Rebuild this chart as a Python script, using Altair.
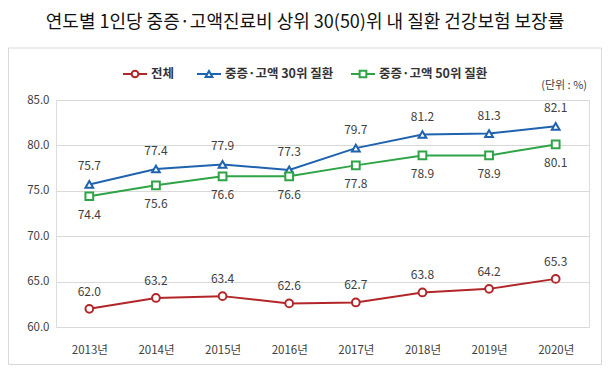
import altair as alt
import pandas as pd

years = ["2013년", "2014년", "2015년", "2016년", "2017년", "2018년", "2019년", "2020년"]
series_names = ["전체", "중증·고액 30위 질환", "중증·고액 50위 질환"]
total = [62.0, 63.2, 63.4, 62.6, 62.7, 63.8, 64.2, 65.3]
top30 = [75.7, 77.4, 77.9, 77.3, 79.7, 81.2, 81.3, 82.1]
top50 = [74.4, 75.6, 76.6, 76.6, 77.8, 78.9, 78.9, 80.1]
y_ticks = [60, 65, 70, 75, 80, 85]

title_text = "연도별 1인당 중증·고액진료비 상위 30(50)위 내 질환 건강보험 보장률"
unit_text = "(단위 : %)"

colors = ["#B22629", "#1F63AE", "#2FA446"]
shapes = ["circle", "triangle-up", "square"]
label_dy = [-17, -18, 19]

FONT = "Noto Sans CJK KR"
W, H = 533, 227

rows = []
for name, vals in zip(series_names, [total, top30, top50]):
    for yr, v in zip(years, vals):
        rows.append({"year": yr, "series": name, "value": v})
df = pd.DataFrame(rows)

xenc = alt.X("year:N", sort=years, scale=alt.Scale(paddingOuter=0.5),
             axis=alt.Axis(title=None, labelAngle=0, ticks=False, domain=False, grid=False,
                           labelFont=FONT, labelFontSize=11.5, labelColor="#404040",
                           labelPadding=17))
yenc = alt.Y("value:Q", scale=alt.Scale(domain=[60, 85], nice=False, zero=False),
             axis=alt.Axis(title=None, values=y_ticks, format=".1f", ticks=False, domain=False,
                           grid=True, gridColor="#d9d9d9", gridWidth=1,
                           labelFont=FONT, labelFontSize=11.5, labelColor="#404040",
                           labelPadding=7))

layers = []
for i, name in enumerate(series_names):
    sub = df[df.series == name]
    base = alt.Chart(sub)
    layers.append(base.mark_line(strokeWidth=2, color=colors[i]).encode(x=xenc, y=yenc))
    layers.append(base.mark_point(shape=shapes[i], filled=True, fill="white", stroke=colors[i],
                                  strokeWidth=2, size=60, opacity=1).encode(x=xenc, y=yenc))
    layers.append(base.mark_text(dy=label_dy[i], font=FONT, fontSize=12, color="#404040")
                  .encode(x=xenc, y=yenc, text=alt.Text("value:Q", format=".1f")))

# border frame
frame = alt.Chart(pd.DataFrame({"a": [0]})).mark_rect(fill=None, stroke="#d9d9d9", strokeWidth=1).encode(
    x=alt.value(-47.5), x2=alt.value(545.5), y=alt.value(-52), y2=alt.value(264.5))

# title
title = alt.Chart(pd.DataFrame({"t": [title_text]})).mark_text(
    font=FONT, fontSize=18, color="#111111", align="center", baseline="middle").encode(
    x=alt.value(249), y=alt.value(-77), text="t:N")

unit = alt.Chart(pd.DataFrame({"t": [unit_text]})).mark_text(
    font=FONT, fontSize=11, color="#404040", align="right", baseline="middle").encode(
    x=alt.value(531), y=alt.value(-14), text="t:N")

# legend
marker_x = [79, 153, 307]
leg = pd.DataFrame({"series": series_names, "mx": marker_x})
leg["x1"] = leg.mx - 12
leg["x2"] = leg.mx + 12
leg["tx"] = leg.mx + 16
leg_layers = []
for i, name in enumerate(series_names):
    r = leg.iloc[i]
    b = alt.Chart(pd.DataFrame({"t": [name]}))
    leg_layers.append(b.mark_rule(strokeWidth=2, color=colors[i]).encode(
        x=alt.value(float(r.x1)), x2=alt.value(float(r.x2)), y=alt.value(-26)))
    leg_layers.append(b.mark_point(shape=shapes[i], filled=True, fill="white", stroke=colors[i],
                                   strokeWidth=2, size=45, opacity=1).encode(
        x=alt.value(float(r.mx)), y=alt.value(-26)))
    leg_layers.append(b.mark_text(font=FONT, fontSize=12.5, fontWeight="bold", color="#333333",
                                  align="left", baseline="middle").encode(
        x=alt.value(float(r.tx)), y=alt.value(-26), text="t:N"))

chart = alt.layer(frame, *layers, title, unit, *leg_layers).properties(
    width=W, height=H,
    autosize=alt.AutoSizeParams(type="none"),
    padding={"left": 48, "top": 92, "right": 13, "bottom": 40},
).configure_view(stroke=None).configure(background="white")

chart.save("out.html", embed_options={"renderer": "svg", "actions": False})
